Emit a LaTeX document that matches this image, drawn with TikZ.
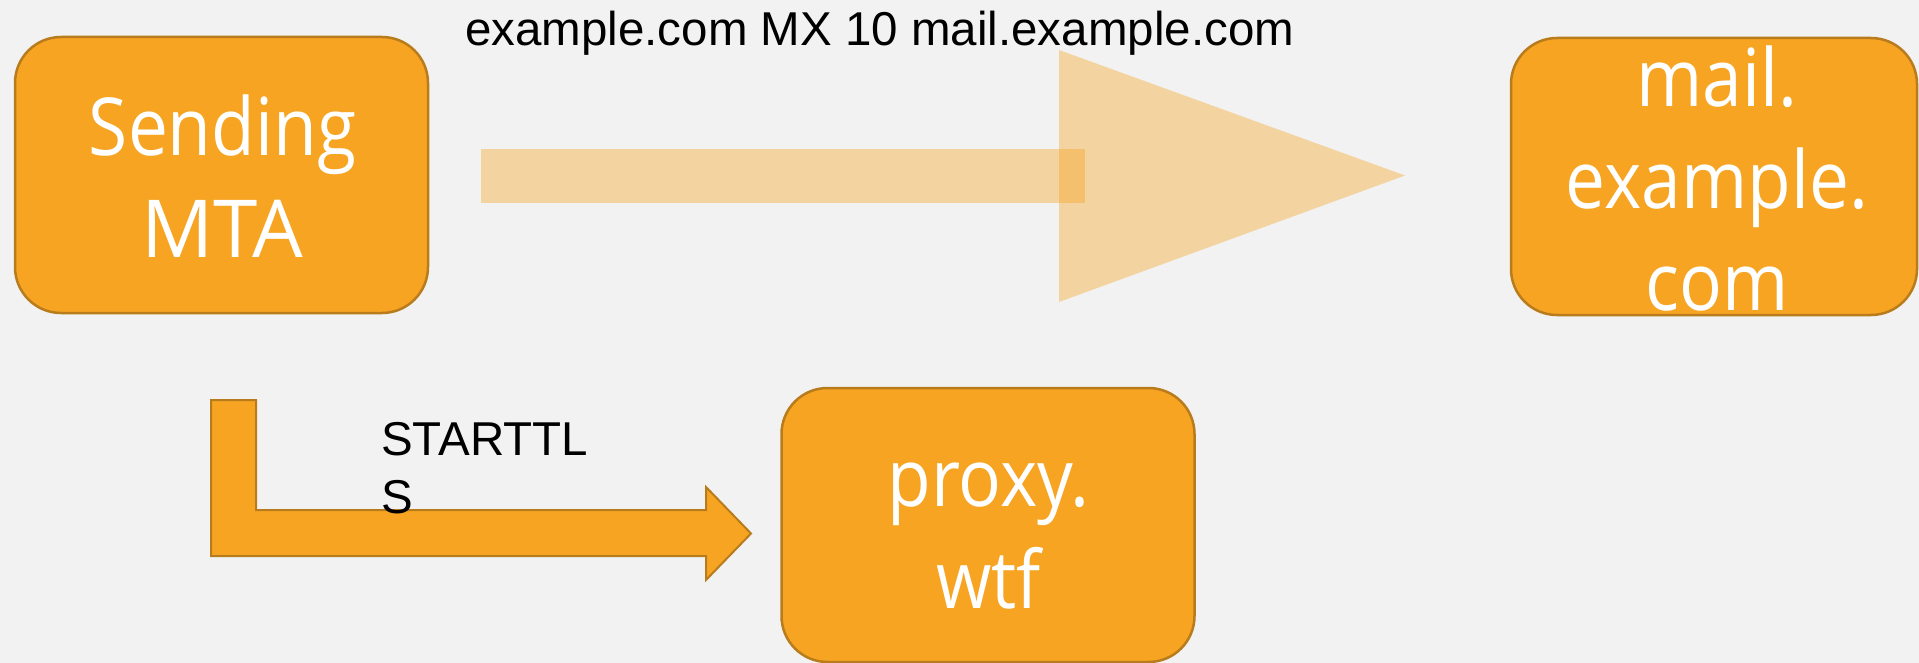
\documentclass[tikz,border=0pt]{standalone}
\usepackage{fontspec}
\setmainfont{Liberation Sans}
\newfontfamily\boxfont[FakeStretch=0.89]{Open Sans}
\newfontfamily\boxcapsfont{Open Sans}
\definecolor{bgc}{HTML}{F2F2F2}
\definecolor{boxfill}{HTML}{F6A421}
\definecolor{boxline}{HTML}{B97C1C}
\newcommand{\hostlines}[1]{\begin{tabular}[b]{@{}c@{}}#1\end{tabular}}
\tikzset{
  hostbox/.style={draw=boxline, line width=2.5pt, fill=boxfill, rounded corners=46pt,
    inner sep=0pt},
  hosttext/.style={text=white, inner sep=0pt, anchor=base,
    font=\boxfont\fontsize{80}{102}\selectfont},
  fadedarrow/.style={fill=boxfill, fill opacity=0.39},
  labeltext/.style={text=black, inner sep=0pt, anchor=base west,
    font=\fontsize{47.5}{58}\selectfont},
}
\begin{document}
\begin{tikzpicture}[x=1pt,y=-1pt]
\useasboundingbox (0,0) rectangle (1919,663);
\fill[bgc] (0,0) rectangle (1919,663);
\clip (0,0) rectangle (1919,663);

% boxes
\node[hostbox, minimum width=413pt, minimum height=276pt] (mta) at (221.5,175) {};
\node[hostbox, minimum width=406pt, minimum height=277pt] (mail) at (1714,176.5) {};
\node[hostbox, minimum width=413pt, minimum height=274pt] (proxy) at (988,525) {};
\node[hosttext] (mtatext) at (222.5,257) {\hostlines{Sending\\{\boxcapsfont MTA}}};
\node[hosttext] (mailtext) at (1717,310) {\hostlines{mail.\\example.\\com}};
\node[hosttext] (proxytext) at (988.5,608) {\hostlines{proxy.\\wtf}};

% faded MX arrow
\fill[fadedarrow] (481,149) rectangle (1085,203);
\fill[fadedarrow] (1059,50) -- (1405,175.5) -- (1059,302) -- cycle;
\node[labeltext] (mxlabel) at (465,46) {example.com MX 10 mail.example.com};

% STARTTLS bent arrow
\draw[draw=boxline, line width=2pt, fill=boxfill, line join=miter]
  (211,400) -- (256,400) -- (256,510) -- (706,510) -- (706,487) -- (751,533.5)
  -- (706,580) -- (706,556) -- (211,556) -- cycle;
\node[labeltext, align=left] (tls) at (381,513) {STARTTL\\S};
\end{tikzpicture}
\end{document}
